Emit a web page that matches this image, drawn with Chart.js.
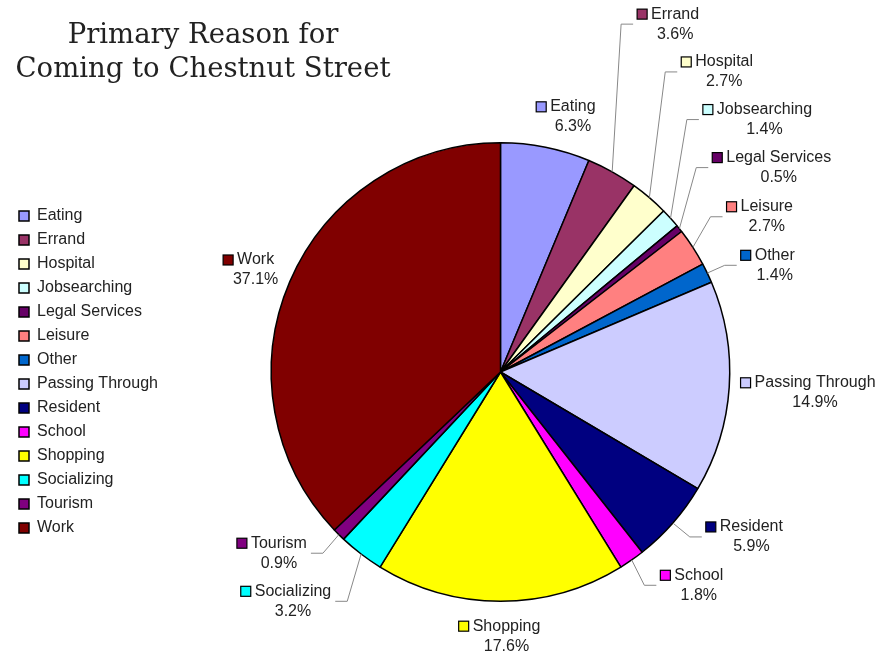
<!DOCTYPE html>
<html>
<head>
<meta charset="utf-8">
<title>Primary Reason for Coming to Chestnut Street</title>
<script src="https://cdn.jsdelivr.net/npm/chart.js@4.4.0/dist/chart.umd.min.js"></script>
<style>
  html, body { margin: 0; padding: 0; background: #fff; }
  #reasonChart { display: block; }
</style>
</head>
<body>
<canvas id="reasonChart" width="883" height="656"></canvas>
<script>
// ============================================================
// DATA
// ============================================================
const titleLines = ['Primary Reason for', 'Coming to Chestnut Street'];

const reasons = [
  'Eating', 'Errand', 'Hospital', 'Jobsearching', 'Legal Services', 'Leisure', 'Other',
  'Passing Through', 'Resident', 'School', 'Shopping', 'Socializing', 'Tourism', 'Work'
];

// share of respondents, %
const shares = [6.3, 3.6, 2.7, 1.4, 0.5, 2.7, 1.4, 14.9, 5.9, 1.8, 17.6, 3.2, 0.9, 37.1];

const sliceColors = [
  '#9999FF', '#993366', '#FFFFCC', '#CCFFFF', '#660066', '#FF8080', '#0066CC',
  '#CCCCFF', '#000080', '#FF00FF', '#FFFF00', '#00FFFF', '#800080', '#800000'
];

const TEXT_FONT = '"Liberation Sans", Arial, sans-serif';

// ============================================================
// PLUGINS
// ============================================================
// two-line title in the top left corner
const titleBlock = {
  id: 'titleBlock',
  afterDraw(chart, args, opts) {
    const ctx = chart.ctx;
    ctx.save();
    ctx.font = opts.font;
    ctx.fillStyle = opts.color;
    ctx.textAlign = 'center';
    ctx.textBaseline = 'alphabetic';
    opts.lines.forEach((t, i) => ctx.fillText(t, opts.x, opts.y + i * opts.lineHeight));
    ctx.restore();
  }
};

// outside labels: colour key + name, percentage below, leader line when far from the rim
const sliceLabels = {
  id: 'sliceLabels',
  afterDatasetsDraw(chart, args, opts) {
    const ctx = chart.ctx;
    const meta = chart.getDatasetMeta(0);
    const ds = chart.data.datasets[0];
    ctx.save();
    ctx.font = opts.font;
    ctx.textBaseline = 'middle';

    meta.data.forEach((arc, i) => {
      const { x, y, startAngle, endAngle, outerRadius } =
        arc.getProps(['x', 'y', 'startAngle', 'endAngle', 'outerRadius'], true);
      const mid = (startAngle + endAngle) / 2;
      const [shift, gap] = opts.placement[i];
      const a = mid + shift * Math.PI / 180;
      const cx = x + Math.cos(a) * (outerRadius + gap);
      const cy = y + Math.sin(a) * (outerRadius + gap);

      const name = chart.data.labels[i];
      const pct = ds.data[i].toFixed(1) + '%';
      const nameW = ctx.measureText(name).width;
      const pctW = ctx.measureText(pct).width;
      const y1 = cy - opts.lineGap / 2;
      const y2 = cy + opts.lineGap / 2;
      const box = opts.boxSize;
      const boxX = cx - nameW / 2 - 4 - box;

      const left = Math.min(boxX, cx - pctW / 2);
      const right = cx + Math.max(nameW, pctW) / 2;
      const top = y1 - 8, bottom = y2 + 8;

      // leader line from the rim at the slice middle
      const px = x + Math.cos(mid) * outerRadius;
      const py = y + Math.sin(mid) * outerRadius;
      const nx = Math.max(left, Math.min(px, right));
      const ny = Math.max(top, Math.min(py, bottom));
      if (Math.hypot(px - nx, py - ny) > 22) {
        const toRight = cx > px;
        const kx = toRight ? left - 16 : right + 16;
        const ex = toRight ? left - 4 : right + 4;
        ctx.beginPath();
        ctx.moveTo(px, py);
        ctx.lineTo(kx, cy);
        ctx.lineTo(ex, cy);
        ctx.strokeStyle = opts.leaderColor;
        ctx.lineWidth = 1;
        ctx.stroke();
      }

      ctx.fillStyle = ds.backgroundColor[i];
      ctx.fillRect(boxX, y1 - box / 2, box, box);
      ctx.strokeStyle = '#000';
      ctx.lineWidth = 1.2;
      ctx.strokeRect(boxX, y1 - box / 2, box, box);

      ctx.fillStyle = opts.color;
      ctx.textAlign = 'left';
      ctx.fillText(name, cx - nameW / 2, y1);
      ctx.textAlign = 'center';
      ctx.fillText(pct, cx, y2);
    });
    ctx.restore();
  }
};

// ============================================================
// CHART
// ============================================================
const reasonChart = new Chart(document.getElementById('reasonChart'), {
  type: 'pie',
  data: {
    labels: reasons,
    datasets: [{
      data: shares,
      backgroundColor: sliceColors,
      borderColor: '#000',
      borderWidth: 1.5,
    }]
  },
  options: {
    responsive: false,
    animation: false,
    layout: { padding: { top: 142, bottom: 54, left: 11, right: 50 } },
    plugins: {
      tooltip: { enabled: false },
      legend: {
        position: 'left',
        align: 'center',
        labels: {
          boxWidth: 10, boxHeight: 10, padding: 8,
          color: '#222',
          font: { family: TEXT_FONT, size: 16 },
        }
      },
      titleBlock: {
        lines: titleLines,
        x: 203, y: 43, lineHeight: 34,
        font: '27.5px "DejaVu Serif", serif',
        color: '#222',
      },
      sliceLabels: {
        font: '16px ' + TEXT_FONT,
        color: '#222',
        leaderColor: '#888',
        lineGap: 20,
        boxSize: 10,
        // [angle shift from slice middle in degrees, gap beyond the rim in px]
        placement: [
          [4.5, 36], [-2.5, 160], [-3.8, 145], [-1.6, 136], [2.4, 116], [2.7, 79], [4.3, 65],
          [0, 86], [-7.9, 71], [-8, 62], [-1.3, 35], [4.7, 80], [5.9, 57], [-0.6, 36]
        ],
      },
    }
  },
  plugins: [sliceLabels, titleBlock]
});
</script>
</body>
</html>
